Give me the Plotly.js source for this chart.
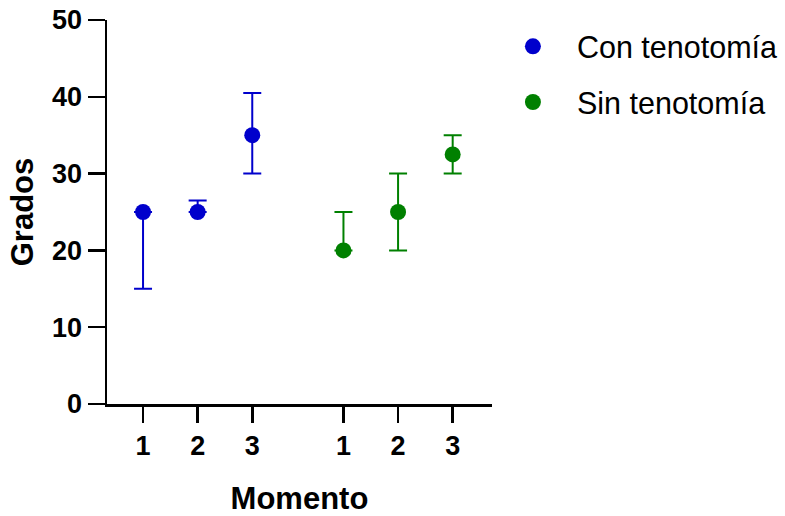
<!DOCTYPE html>
<html>
<head>
<meta charset="utf-8">
<script src="https://cdn.plot.ly/plotly-3.0.1.min.js"></script>
<style>html,body{margin:0;padding:0;background:#fff}#chart{width:785px;height:516px}</style>
</head>
<body>
<div id="chart"></div>
<script>
// Tick labels (Momento) and positions of the two groups on the x axis
const tickLabels = ["1", "2", "3", "1", "2", "3"];
const xCon = [1, 2, 3];
const xSin = [4.67, 5.67, 6.67];

// Con tenotomía
const conY = [25, 25, 35];
const conErrPlus = [0, 1.5, 5.5];
const conErrMinus = [10, 0, 5];

// Sin tenotomía
const sinY = [20, 25, 32.5];
const sinErrPlus = [5, 5, 2.5];
const sinErrMinus = [0, 5, 2.5];

const blue = "#0000CC";
const green = "#008000";

function trace(name, x, y, plus, minus, color, group) {
  return {
    type: "scatter", mode: "markers", name: name, x: x, y: y,
    legendgroup: group,
    marker: {color: color, size: 16, symbol: "circle"},
    error_y: {type: "data", symmetric: false, array: plus, arrayminus: minus,
              color: color, thickness: 2, width: 9},
    cliponaxis: false
  };
}

const data = [
  trace("Con tenotomía", xCon, conY, conErrPlus, conErrMinus, blue, "a"),
  trace("Sin tenotomía", xSin, sinY, sinErrPlus, sinErrMinus, green, "b")
];

const axisFont = {family: "Liberation Sans, Arial, sans-serif", size: 27, color: "#000", weight: "bold"};
const titleFont = {family: "Liberation Sans, Arial, sans-serif", size: 31, color: "#000", weight: "bold"};

const layout = {
  width: 785, height: 516,
  margin: {l: 107, r: 293, t: 20, b: 112, autoexpand: false},
  paper_bgcolor: "#fff", plot_bgcolor: "#fff",
  showlegend: true,
  legend: {x: 0.992, y: 1.0, xanchor: "left", yanchor: "top",
           font: {family: "Liberation Sans, Arial, sans-serif", size: 30.5, color: "#000"},
           tracegroupgap: 13, itemsizing: "trace", itemwidth: 78},
  xaxis: {
    range: [0.34, 7.39], showgrid: false, zeroline: false,
    showline: true, linecolor: "#000", linewidth: 2.5,
    ticks: "outside", ticklen: 16, tickwidth: 2.5, tickcolor: "#000",
    tickvals: xCon.concat(xSin), ticktext: tickLabels,
    tickfont: axisFont,
    title: {text: "Momento", font: titleFont, standoff: 33}
  },
  yaxis: {
    range: [0, 50], showgrid: false, zeroline: false,
    showline: true, linecolor: "#000", linewidth: 2.5,
    ticks: "outside", ticklen: 17, tickwidth: 2.5, tickcolor: "#000",
    tickvals: [0, 10, 20, 30, 40, 50],
    tickfont: axisFont,
    title: {text: "Grados", font: titleFont, standoff: 9}
  }
};

Plotly.newPlot("chart", data, layout, {displayModeBar: false, staticPlot: true});
</script>
</body>
</html>
